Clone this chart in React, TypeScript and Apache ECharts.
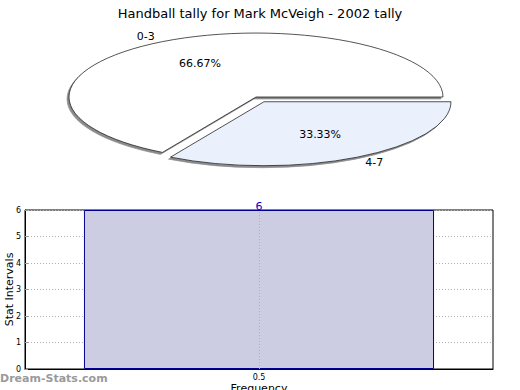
import { useEffect, useRef } from "react";
import * as echarts from "echarts";

const TITLE = "Handball tally for Mark McVeigh - 2002 tally";
const pieCategories = ["0-3", "4-7"];
const pieValues = [2, 1];
const pieColors = ["#ffffff", "#eaf0fc"];
const explodedSlices = [false, true];
const barCategories = ["0.5"];
const barValues = [6];
const yAxisName = "Stat Intervals";
const xAxisName = "Frequency";
const watermark = "Dream-Stats.com";

const FONT = "DejaVu Sans";

export default function App() {
  const ref = useRef<HTMLDivElement>(null);
  useEffect(() => {
    if (!ref.current) return;
    const chart = echarts.init(ref.current, undefined, { renderer: "svg" });
    const total = pieValues.reduce((a, b) => a + b, 0);
    const cx = 256;
    const cy = 97;
    const rx = 187;
    const ry = 64;
    const explode = 16;

    const renderPie = (params: any, api: any) => {
      const i = params.dataIndex;
      const v = api.value(0);
      let before = 0;
      for (let k = 0; k < i; k++) before += pieValues[k];
      const mathStart = (before / total) * Math.PI * 2;
      const mathEnd = ((before + v) / total) * Math.PI * 2;
      const mid = -(mathStart + mathEnd) / 2;
      const ex = explodedSlices[i] ? explode : 0;
      const ox = cx + Math.cos(mid) * ex;
      const oy = cy + Math.sin(mid) * ex * (ry / rx);
      const pct = ((v / total) * 100).toFixed(2) + "%";
      const lx = ox + Math.cos(mid) * rx * 0.6;
      const ly = oy + Math.sin(mid) * ry * 0.6;
      const nx = ox + Math.cos(mid) * rx * 1.18;
      const ny = oy + Math.sin(mid) * ry * 1.1;
      return {
        type: "group",
        children: [
          {
            type: "group",
            x: ox,
            y: oy,
            scaleY: ry / rx,
            children: [
              {
                type: "sector",
                shape: {
                  cx: 0,
                  cy: 0,
                  r: rx,
                  r0: 0,
                  startAngle: -mathEnd,
                  endAngle: -mathStart,
                  clockwise: true,
                },
                style: {
                  fill: pieColors[i],
                  stroke: "#000",
                  lineWidth: 1,
                  strokeNoScale: true,
                  shadowBlur: 1,
                  shadowColor: "rgba(0,0,0,0.45)",
                  shadowOffsetX: -2,
                  shadowOffsetY: 2,
                },
              },
            ],
          },
          {
            type: "text",
            x: lx,
            y: ly,
            style: {
              text: pct,
              fill: "#000",
              font: `11px "${FONT}"`,
              align: "center",
              verticalAlign: "middle",
              textAlign: "center",
              textVerticalAlign: "middle",
            },
          },
          {
            type: "text",
            x: nx,
            y: ny,
            style: {
              text: pieCategories[i],
              fill: "#000",
              font: `11px "${FONT}"`,
              align: "center",
              verticalAlign: "middle",
              textAlign: "center",
              textVerticalAlign: "middle",
            },
          },
        ],
      };
    };

    chart.setOption({
      animation: false,
      backgroundColor: "#fff",
      textStyle: { fontFamily: FONT },
      title: {
        text: TITLE,
        left: "center",
        top: 2,
        textStyle: { fontSize: 13, fontWeight: "normal", color: "#000", fontFamily: FONT },
      },
      graphic: [
        {
          type: "text",
          left: 0,
          top: 373,
          style: {
            text: watermark,
            fill: "#9a9a9a",
            font: `bold 11px "${FONT}"`,
          },
        },
      ],
      grid: {
        left: 25,
        right: 27,
        top: 210,
        bottom: 21,
        outerBoundsMode: "none",
        containLabel: false,
        show: true,
        borderColor: "#000",
        borderWidth: 1,
        backgroundColor: "transparent",
      },
      xAxis: {
        type: "category",
        data: barCategories,
        boundaryGap: true,
        name: xAxisName,
        nameLocation: "middle",
        nameGap: 14,
        nameMoveOverlap: false,
        nameTextStyle: { fontSize: 11, color: "#000" },
        axisLine: { lineStyle: { color: "#000" } },
        axisTick: { show: false },
        axisLabel: { fontSize: 8, color: "#000", margin: 4 },
        splitLine: { show: false },
      },
      yAxis: {
        type: "value",
        min: 0,
        max: 6,
        interval: 1,
        name: yAxisName,
        nameLocation: "middle",
        nameGap: 10,
        nameMoveOverlap: false,
        nameTextStyle: { fontSize: 11, color: "#000" },
        axisLine: { show: true, lineStyle: { color: "#000" } },
        axisTick: { show: true, inside: true, length: 3, lineStyle: { color: "#999" } },
        axisLabel: { fontSize: 8, color: "#000", margin: 4 },
        splitLine: { show: true, lineStyle: { color: "#b0b0b0", type: [1, 2] } },
      },
      series: [
        {
          type: "custom",
          coordinateSystem: "none",
          data: pieValues,
          renderItem: renderPie,
          z: 5,
        },
        {
          type: "bar",
          data: barValues,
          barWidth: "74.8%",
          itemStyle: { color: "#ccccE2", borderColor: "#000090", borderWidth: 1 },
          label: {
            show: true,
            position: "top",
            distance: -2,
            color: "#0000cc",
            fontSize: 11,
          },
          markLine: {
            silent: true,
            symbol: "none",
            label: { show: false },
            lineStyle: { color: "#b0b0b0", type: [1, 2], width: 1 },
            data: [{ xAxis: barCategories[0] }],
          },
        },
      ],
    });
    return () => chart.dispose();
  }, []);
  return (
    <div
      ref={ref}
      style={{ position: "fixed", left: 0, top: 0, width: 520, height: 390 }}
    />
  );
}
